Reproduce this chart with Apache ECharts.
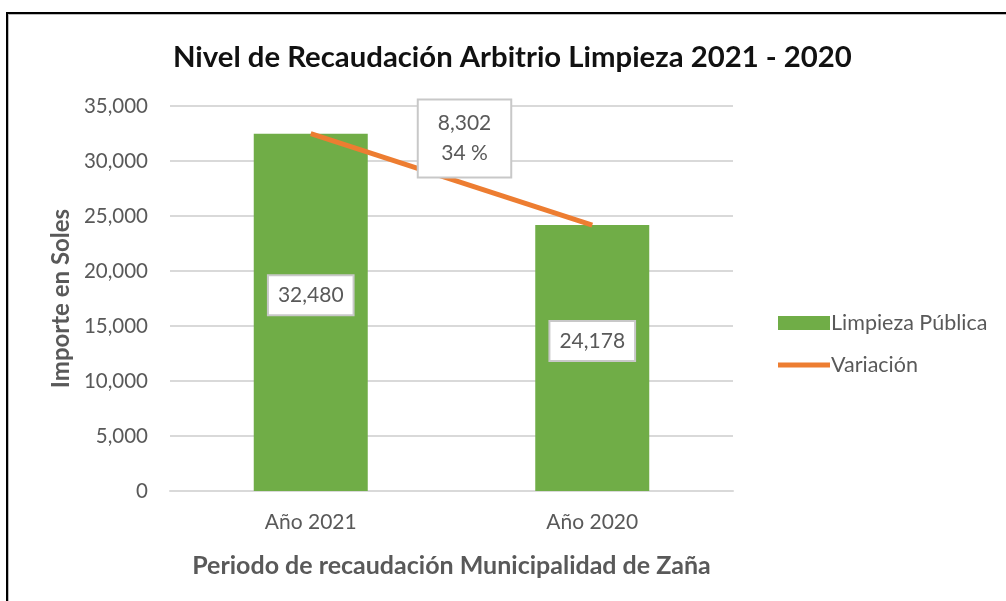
<!DOCTYPE html>
<html>
<head>
<meta charset="utf-8">
<script src="https://cdn.jsdelivr.net/npm/echarts@6/dist/echarts.min.js"></script>
<style>
html,body{margin:0;padding:0;background:#fff;}
#wrap{position:relative;width:1006px;height:601px;overflow:hidden;background:#fff;}
#frame{position:absolute;left:6px;top:12px;width:1100px;height:700px;border-top:2px solid #000;border-left:2px solid #000;box-shadow:inset 1px 1px 0 #bbb;}
#chart{position:absolute;left:0;top:0;width:1006px;height:601px;}
</style>
</head>
<body>
<div id="wrap">
<div id="frame"></div>
<div id="chart"></div>
</div>
<script>
const categories = ['Año 2021', 'Año 2020'];
const limpiezaValues = [32480, 24178];
const variacionValues = [32480, 24178];
const seriesNames = ['Limpieza Pública', 'Variación'];
const titleText = 'Nivel de Recaudación Arbitrio Limpieza 2021 - 2020';
const yAxisName = 'Importe en Soles';
const xAxisName = 'Periodo de recaudación Municipalidad de Zaña';

const FONT = 'Lato';
const fmt = v => v.toLocaleString('en-US');
const diff = limpiezaValues[0] - limpiezaValues[1];
const pct = Math.round(diff / limpiezaValues[1] * 100);

const chart = echarts.init(document.getElementById('chart'), null, {renderer: 'canvas'});
const option = {
  backgroundColor: 'transparent',
  textStyle: {fontFamily: FONT},
  title: {
    text: titleText, left: 168, top: 38,
    textStyle: {fontFamily: FONT, fontWeight: 'bold', fontSize: 29.3, color: '#111'}
  },
  legend: {
    orient: 'vertical', left: 773, top: 307, itemGap: 20,
    itemWidth: 52, itemHeight: 14,
    textStyle: {fontFamily: FONT, fontSize: 21.5, color: '#595959', padding: [0,0,0,-4]},
    data: [{name: seriesNames[0], icon: 'rect'}, {name: seriesNames[1], icon: 'path://M0,0L52,0L52,5L0,5Z'}]
  },
  grid: {left: 170, right: 273, top: 106, bottom: 110},
  xAxis: {
    type: 'category', data: categories,
    axisLine: {lineStyle: {color: '#d9d9d9', width: 2}},
    axisTick: {show: false},
    axisLabel: {fontFamily: FONT, fontSize: 21, color: '#595959', margin: 21},
    name: xAxisName, nameLocation: 'middle', nameGap: 62,
    nameTextStyle: {fontFamily: FONT, fontSize: 25, fontWeight: 'bold', color: '#595959'}
  },
  yAxis: {
    type: 'value', min: 0, max: 35000, interval: 5000,
    axisLine: {show: false}, axisTick: {show: false},
    splitLine: {lineStyle: {color: '#d9d9d9', width: 2}},
    axisLabel: {fontFamily: FONT, fontSize: 20.5, color: '#595959', margin: 22, formatter: v => fmt(v)},
    name: yAxisName, nameLocation: 'middle', nameGap: 95, nameRotate: 90,
    nameTextStyle: {fontFamily: FONT, fontSize: 24, fontWeight: 'bold', color: '#595959'}
  },
  series: [
    {
      name: seriesNames[0], type: 'bar', data: limpiezaValues, barWidth: 114,
      itemStyle: {color: '#70AD47'},
      label: {
        show: true, position: 'inside', offset: [0, -17],
        formatter: p => fmt(p.value),
        fontFamily: FONT, fontSize: 21, color: '#595959',
        backgroundColor: '#fff', borderColor: '#c8c8c8', borderWidth: 2,
        padding: [9, 9, 8, 9]
      }
    },
    {
      name: seriesNames[1], type: 'line', data: variacionValues,
      symbol: 'none', lineStyle: {color: '#ED7D31', width: 5}, itemStyle: {color: '#ED7D31'},
      z: 5
    }
  ]
};
chart.setOption(option);

const p0 = chart.convertToPixel({seriesIndex: 1}, [0, variacionValues[0]]);
const p1 = chart.convertToPixel({seriesIndex: 1}, [1, variacionValues[1]]);
const mx = (p0[0] + p1[0]) / 2 + 13;
const my = (p0[1] + p1[1]) / 2 - 41;
chart.setOption({
  graphic: [{
    type: 'text', x: mx, y: my, z: 10,
    style: {
      text: fmt(diff) + '\n' + pct + ' %',
      fontFamily: FONT, fontSize: 21, fill: '#595959', lineHeight: 30,
      align: 'center', verticalAlign: 'middle',
      backgroundColor: '#fff', borderColor: '#c8c8c8', borderWidth: 2,
      padding: [8, 19, 8, 19]
    }
  }]
});
</script>
</body>
</html>
